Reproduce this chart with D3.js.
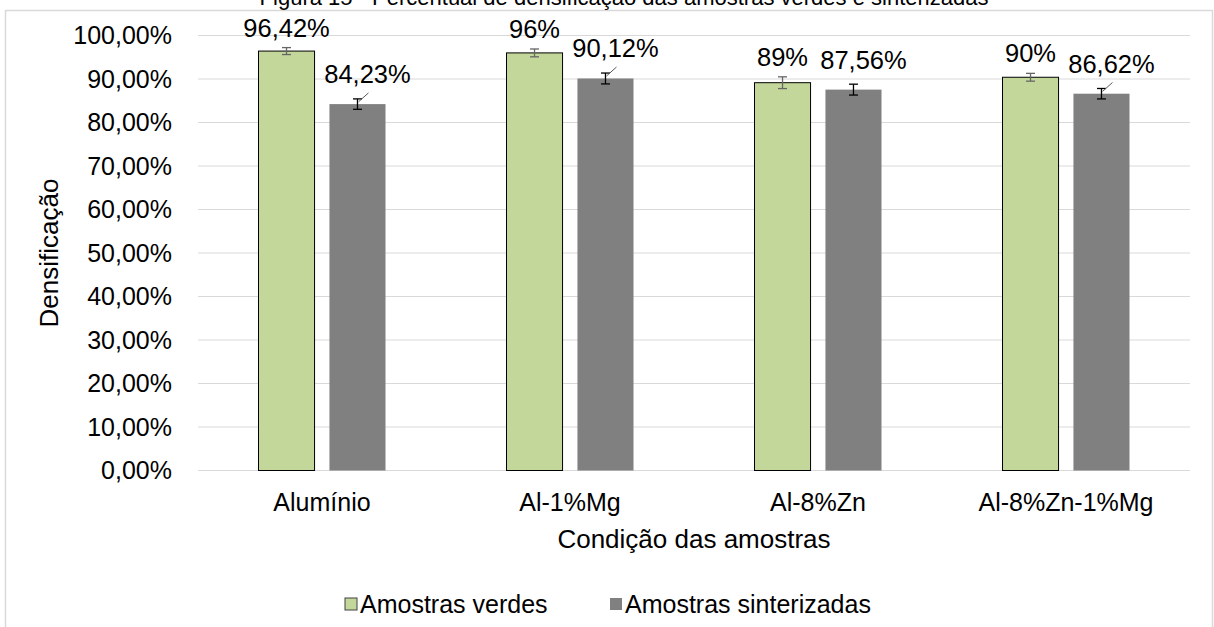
<!DOCTYPE html>
<html>
<head>
<meta charset="utf-8">
<title>Densificação</title>
<script src="https://cdn.jsdelivr.net/npm/d3@7"></script>
<style>
  body { margin: 0; background: #fff; }
  text { font-family: "Liberation Sans", Arial, sans-serif; fill: #000; }
</style>
</head>
<body>
<script>
// data
var categories = ["Alumínio", "Al-1%Mg", "Al-8%Zn", "Al-8%Zn-1%Mg"];
var seriesNames = ["Amostras verdes", "Amostras sinterizadas"];
var verdes = [96.42, 96.0, 89.15, 90.4];
var sinterizadas = [84.23, 90.12, 87.56, 86.62];
var errVerdes = [0.8, 0.9, 1.35, 0.9];
var errSinter = [1.2, 1.25, 1.25, 1.2];
var labelsVerdes = ["96,42%", "96%", "89%", "90%"];
var labelsSinter = ["84,23%", "90,12%", "87,56%", "86,62%"];
var leaderSinter = [true, true, false, true];
var yTicks = [0, 10, 20, 30, 40, 50, 60, 70, 80, 90, 100];

var colors = ["#c4d79b", "#808080"];
var errColors = ["#666666", "#000000"];

var svg_width = 1214, svg_height = 627;
var margin = {top: 35.5, left: 198, right: 24, bottom: 156.5};
var width = svg_width - margin.left - margin.right;
var height = svg_height - margin.top - margin.bottom;

var svg = d3.select("body").append("svg")
  .attr("width", svg_width)
  .attr("height", svg_height);

// chart frame and the caption, which the page crops at the top
svg.append("rect")
  .attr("x", 5.5).attr("y", 10.5)
  .attr("width", 1207).attr("height", 640)
  .attr("fill", "none").attr("stroke", "#d9d9d9").attr("stroke-width", 1.5);

svg.append("text")
  .attr("x", 624).attr("y", 5)
  .attr("text-anchor", "middle")
  .style("font-size", "22px")
  .text("Figura 15 - Percentual de densificação das amostras verdes e sinterizadas");

var g = svg.append("g")
  .attr("transform", "translate(" + margin.left + "," + margin.top + ")");

var x0 = d3.scaleBand().domain(categories).range([0, width]);
var bw = x0.bandwidth();
var x1 = d3.scaleBand().domain(seriesNames)
  .range([bw / 2 - 63.5, bw / 2 + 63.5]).paddingInner(0.21);
var y = d3.scaleLinear().domain([0, 100]).range([height, 0]);

var fmt = function(d) { return d.toFixed(2).replace(".", ",") + "%"; };

// gridlines
g.append("g").selectAll("line")
  .data(yTicks)
  .enter().append("line")
  .attr("x1", 0).attr("x2", width)
  .attr("y1", function(d) { return y(d); })
  .attr("y2", function(d) { return y(d); })
  .attr("stroke", "#d9d9d9").attr("stroke-width", 1);

// y tick labels
g.append("g").selectAll("text")
  .data(yTicks)
  .enter().append("text")
  .attr("x", -26)
  .attr("y", function(d) { return y(d); })
  .attr("dy", "0.35em")
  .attr("text-anchor", "end")
  .style("font-size", "25px")
  .text(fmt);

// x tick labels
g.append("g").selectAll("text")
  .data(categories)
  .enter().append("text")
  .attr("x", function(d) { return x0(d) + bw / 2; })
  .attr("y", height + 40)
  .attr("text-anchor", "middle")
  .style("font-size", "25px")
  .text(function(d) { return d; });

var series = [
  {name: seriesNames[0], vals: verdes, errs: errVerdes, labels: labelsVerdes},
  {name: seriesNames[1], vals: sinterizadas, errs: errSinter, labels: labelsSinter}
];

series.forEach(function(s, si) {
  var rows = categories.map(function(c, i) {
    return {cat: c, v: s.vals[i], e: s.errs[i], label: s.labels[i], i: i};
  });
  var sg = g.append("g");
  var cx = function(d) { return x0(d.cat) + x1(s.name) + x1.bandwidth() / 2; };

  sg.selectAll("rect")
    .data(rows)
    .enter().append("rect")
    .attr("x", function(d) { return x0(d.cat) + x1(s.name); })
    .attr("y", function(d) { return y(d.v); })
    .attr("width", x1.bandwidth())
    .attr("height", function(d) { return height - y(d.v); })
    .attr("fill", colors[si])
    .attr("stroke", si == 0 ? "#000" : "none")
    .attr("stroke-width", 1);

  // error bars
  var eb = sg.selectAll("g.err")
    .data(rows)
    .enter().append("g").attr("class", "err")
    .attr("stroke", errColors[si]).attr("stroke-width", 1.3);
  eb.append("line")
    .attr("x1", cx).attr("x2", cx)
    .attr("y1", function(d) { return y(d.v + d.e); })
    .attr("y2", function(d) { return y(d.v - d.e); });
  eb.append("line")
    .attr("x1", function(d) { return cx(d) - 4.5; })
    .attr("x2", function(d) { return cx(d) + 4.5; })
    .attr("y1", function(d) { return y(d.v + d.e); })
    .attr("y2", function(d) { return y(d.v + d.e); });
  eb.append("line")
    .attr("x1", function(d) { return cx(d) - 4.5; })
    .attr("x2", function(d) { return cx(d) + 4.5; })
    .attr("y1", function(d) { return y(d.v - d.e); })
    .attr("y2", function(d) { return y(d.v - d.e); });

  // data labels
  sg.selectAll("text")
    .data(rows)
    .enter().append("text")
    .attr("x", function(d) { return si == 0 ? cx(d) : cx(d) + 10; })
    .attr("y", function(d) { return si == 0 ? y(d.v + d.e) - 11 : y(d.v) - 21; })
    .attr("text-anchor", "middle")
    .style("font-size", "25.5px")
    .text(function(d) { return d.label; });

  if (si == 1) {
    sg.selectAll("line.leader")
      .data(rows.filter(function(d) { return leaderSinter[d.i]; }))
      .enter().append("line").attr("class", "leader")
      .attr("x1", function(d) { return cx(d) + 1; })
      .attr("y1", function(d) { return y(d.v + d.e) + 3; })
      .attr("x2", function(d) { return cx(d) + 11; })
      .attr("y2", function(d) { return y(d.v + d.e) - 6; })
      .attr("stroke", "#595959").attr("stroke-width", 1);
  }
});

// axis titles
svg.append("text")
  .attr("x", margin.left + width / 2)
  .attr("y", 548)
  .attr("text-anchor", "middle")
  .style("font-size", "26px")
  .text("Condição das amostras");

svg.append("text")
  .attr("transform", "translate(58,253) rotate(-90)")
  .attr("text-anchor", "middle")
  .style("font-size", "26px")
  .text("Densificação");

// legend
var legend = svg.append("g").attr("transform", "translate(0,604)");
var legX = [345, 610];
seriesNames.forEach(function(n, i) {
  legend.append("rect")
    .attr("x", legX[i]).attr("y", -6)
    .attr("width", 12).attr("height", 12)
    .attr("fill", colors[i])
    .attr("stroke", i == 0 ? "#404040" : "none");
  legend.append("text")
    .attr("x", legX[i] + 15).attr("y", 0)
    .attr("dy", "0.35em")
    .style("font-size", "25px")
    .text(n);
});
</script>
</body>
</html>
